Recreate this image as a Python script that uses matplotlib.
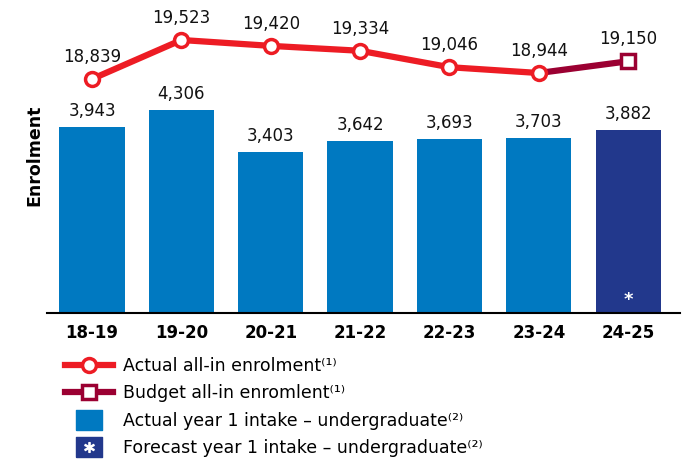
import matplotlib
matplotlib.use("Agg")
import matplotlib.pyplot as plt
from matplotlib.lines import Line2D
from matplotlib.path import Path
from matplotlib.legend_handler import HandlerTuple

# --- Data ---
years = ["18-19", "19-20", "20-21", "21-22", "22-23", "23-24", "24-25"]
intake = [3943, 4306, 3403, 3642, 3693, 3703, 3882]
actual_enrol = [18839, 19523, 19420, 19334, 19046, 18944]
budget_enrol = [18944, 19150]

# --- Colours ---
RED = "#ED1C24"
DARK_RED = "#9B0032"
BLUE = "#0079C1"
NAVY = "#22388C"

plt.rcParams["font.family"] = ["DejaVu Sans"]

fig = plt.figure(figsize=(6.87, 4.65), dpi=100)
W, H = 687, 465
left, right, top, bottom = 47, 680, 5, 313
ax = fig.add_axes([left / W, 1 - bottom / H, (right - left) / W, (bottom - top) / H])

x = list(range(len(years)))
colors = [BLUE] * (len(years) - 1) + [NAVY]
ax.bar(x, intake, width=0.73, color=colors, zorder=2)
ax.set_ylim(0, 6525)
ax.set_xlim(-0.504, 6.58)

for xi, v in zip(x, intake):
    ax.annotate(f"{v:,}", (xi, v), xytext=(0, 5), textcoords="offset points",
                ha="center", va="bottom", fontsize=12, color="#111111")
ax.text(x[-1], 280, "*", ha="center", va="center", color="white",
        fontsize=13, fontweight="bold")

ax.set_yticks([])
for s in ["left", "right", "top"]:
    ax.spines[s].set_visible(False)
ax.spines["bottom"].set_linewidth(1.5)
ax.set_xticks(x)
ax.set_xticklabels(years, fontsize=12, fontweight="bold")
ax.tick_params(axis="x", length=0, pad=8)
ax.set_ylabel("Enrolment", fontsize=12.5, fontweight="bold")
ax.yaxis.set_label_coords(-0.005, 0.513)

# --- Enrolment line on a twin axis ---
ax2 = ax.twinx()
ax2.set_ylim(14734, 20137)
ax2.axis("off")
n = len(actual_enrol)
ax2.plot(x[n - 1:], budget_enrol, color=DARK_RED, linewidth=4.5, zorder=3)
ax2.plot(x[-1], budget_enrol[-1], marker="s", markersize=10, markerfacecolor="white",
         markeredgecolor=DARK_RED, markeredgewidth=2.5, zorder=5)
ax2.plot(x[:n], actual_enrol, color=RED, linewidth=4.5, marker="o", markersize=10,
         markerfacecolor="white", markeredgecolor=RED, markeredgewidth=2.5, zorder=4)

for xi, v in zip(x[:n] + [x[-1]], actual_enrol + [budget_enrol[-1]]):
    ax2.annotate(f"{v:,}", (xi, v), xytext=(0, 16), textcoords="offset points",
                 ha="center", va="center", fontsize=12, color="#111111")

# --- Legend ---
rect = Path([(-1.35, -1), (1.35, -1), (1.35, 1), (-1.35, 1), (-1.35, -1)])
h_actual = Line2D([], [], color=RED, linewidth=4.5, marker="o", markersize=10,
                  markerfacecolor="white", markeredgecolor=RED, markeredgewidth=2.5)
h_budget = Line2D([], [], color=DARK_RED, linewidth=4.5, marker="s", markersize=10,
                  markerfacecolor="white", markeredgecolor=DARK_RED, markeredgewidth=2.5)
h_bar = Line2D([], [], linestyle="none", marker=rect, markersize=19, color=BLUE)
h_fc = (Line2D([], [], linestyle="none", marker=rect, markersize=19, color=NAVY),
        Line2D([], [], linestyle="none", marker="$*$", markersize=7, color="white"))
labels = ["Actual all-in enrolment⁽¹⁾", "Budget all-in enromlent⁽¹⁾",
          "Actual year 1 intake – undergraduate⁽²⁾",
          "Forecast year 1 intake – undergraduate⁽²⁾"]
fig.legend([h_actual, h_budget, h_bar, h_fc], labels, loc="upper left",
           bbox_to_anchor=(56 / W, 1 - 348 / H), frameon=False, fontsize=12.5,
           handlelength=2.8, handletextpad=0.55, labelspacing=0.55, borderpad=0,
           handler_map={tuple: HandlerTuple(ndivide=1)})

fig.savefig("out.png", dpi=100)
